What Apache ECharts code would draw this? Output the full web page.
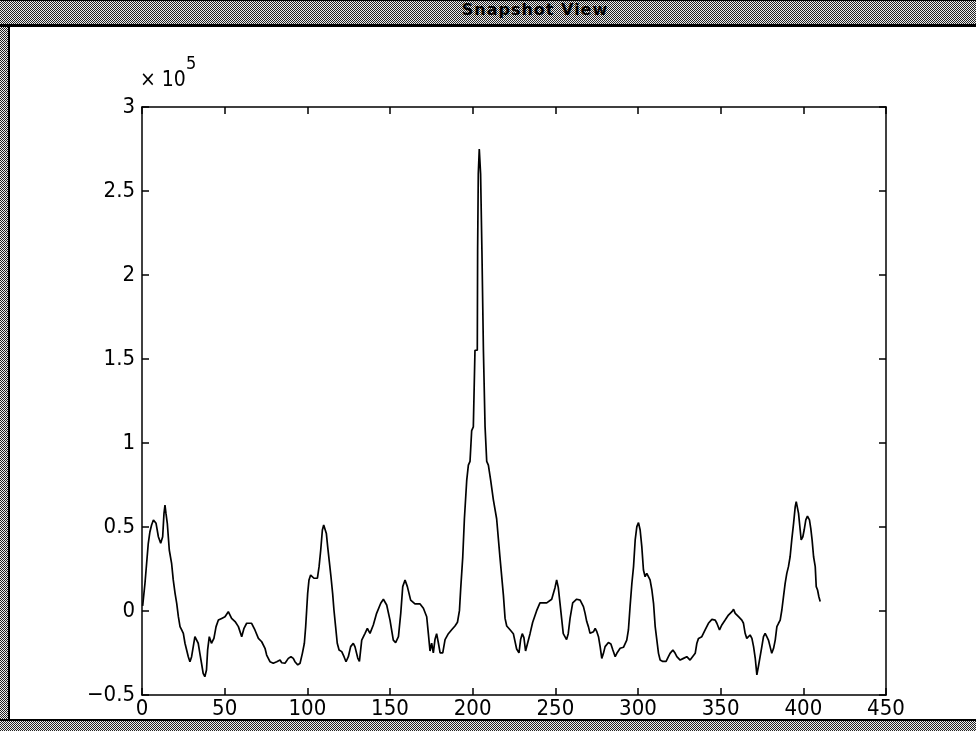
<!DOCTYPE html>
<html><head><meta charset="utf-8">
<script src="https://cdn.jsdelivr.net/npm/echarts@6/dist/echarts.min.js"></script>
<style>
html,body{margin:0;padding:0;width:976px;height:731px;overflow:hidden;background:#fff;}
.dither{position:absolute;box-sizing:border-box;background-color:#fff;background-image:repeating-conic-gradient(#222 0% 25%, #eee 0% 50%);background-size:2px 2px;}
#titlebar{left:0;top:0;width:976px;height:27px;border-top:1px solid #000;border-bottom:3px solid #000;}
#leftb{left:0;top:27px;width:10px;height:695px;border-right:2px solid #000;}
#bottomb{left:0;top:719px;width:976px;height:12px;border-top:2px solid #000;}
#ttl{position:absolute;left:0;top:0;width:1070px;height:24px;line-height:24px;text-align:center;font:bold 16px "DejaVu Sans",sans-serif;color:#000;letter-spacing:1px;}
#chart{position:absolute;left:0;top:0;width:976px;height:731px;}
</style></head>
<body>
<div class="dither" id="titlebar"></div>
<div id="ttl">Snapshot View</div>
<div class="dither" id="leftb"></div>
<div class="dither" id="bottomb"></div>
<div id="chart"></div>
<script>
// values in units of 1e5
const xValues = [
0.4,1.8,2.8,3.8,4.8,5.8,6.9,7.3,8.5,9.9,
11.3,12.5,13.3,13.9,14.5,15.3,16.5,17.9,18.9,20,
21,22,23,24,25,26,27,28,29,30,
31,32,33,34,35,36,37,38,39,39.7,
40.7,42,43.5,44.8,46.2,48.2,50.2,52.2,54.2,56.3,
58.3,60.3,61.7,63.3,64.3,66.3,68.3,70.4,72.4,73.4,
74.4,75.4,76.4,77.4,79.4,81.5,82.5,83.5,84.5,86.5,
87.5,88.5,90.1,91.5,92.5,94.2,95.6,97,98.2,99,
99.6,100.2,101,102,103,104,105.1,106.1,107.1,108.1,
109.1,109.9,110.7,111.5,112.3,113.3,114.3,115.3,116.1,117.1,
118.1,119.2,120.8,122.2,123.4,124.8,126.2,127.8,128.8,130.5,
131.5,132.9,134.9,136.3,137.9,139.9,141.9,144.4,146,148,
150,152,153.4,155.1,156.5,157.7,159.1,160.5,162.5,165.1,
168.2,170.2,172.2,173.2,174.2,175.2,176.2,177.2,178.2,179.3,
180.3,181.9,183.3,185.3,187.3,189.3,190.8,192,192.8,194,
195,196.4,197.4,198.4,199.4,200.4,201.4,202.8,203,203.4,
204,204.8,205.6,206.5,207.5,208.5,209.5,210.9,212.5,214.5,
216.5,218.6,219.6,220.6,222.6,224.6,226.6,228,229,230,
231,232,233,234.7,236.3,238.7,240.7,244.8,247.8,249.8,
250.8,251.8,252.8,253.8,254.8,256.8,257.8,258.9,260.5,262.9,
265,267,268,269,270,271,272.1,273.1,274.1,275.1,
276.1,277.1,278.1,279.1,280.1,282.1,283.6,284.8,286.2,287.2,
289.2,291.2,292.2,293.2,294.2,295.2,296.3,297.3,298.3,299.3,
300.3,301.3,302.3,303.3,304.3,305.3,306.3,307.3,308.4,309.4,
310.4,311.4,312.4,313.4,315,317,318.4,319.4,321.1,322.5,
323.5,325.5,327.5,329.5,331.5,334.6,335.6,336.6,338.6,340.6,
342.6,344.7,346.7,347.7,349.3,350.7,352.7,354.7,356.8,357.8,
358.8,360.8,362.8,363.8,364.8,365.8,366.8,367.8,368.9,369.9,
370.9,371.9,373,374.9,375.9,376.9,377.9,378.9,379.9,380.9,
382,383,384,385,386,387,388,389,390,391,
392,393,394.1,395.1,395.7,396.5,397.1,398.1,398.7,399.7,
400.5,401.5,402.5,403.7,404.5,405.3,406.2,407.2,407.8,408.6,
409.4,410.2
];
const yValues = [
0.03,0.165,0.284,0.403,0.472,0.512,0.542,0.546,0.522,0.442,
0.403,0.442,0.581,0.631,0.581,0.522,0.363,0.284,0.185,0.105,
0.046,-0.034,-0.093,-0.113,-0.133,-0.192,-0.232,-0.272,-0.302,-0.272,
-0.212,-0.153,-0.163,-0.192,-0.252,-0.311,-0.371,-0.391,-0.351,-0.232,
-0.153,-0.192,-0.163,-0.093,-0.054,-0.044,-0.034,-0.004,-0.044,-0.063,
-0.093,-0.153,-0.103,-0.073,-0.063,-0.073,-0.113,-0.163,-0.183,-0.183,
-0.222,-0.262,-0.282,-0.302,-0.311,-0.302,-0.296,-0.292,-0.308,-0.311,
-0.302,-0.282,-0.272,-0.282,-0.302,-0.321,-0.311,-0.252,-0.192,-0.093,
0.006,0.105,0.185,0.214,0.208,0.195,0.185,0.195,0.264,0.363,
0.482,0.512,0.502,0.462,0.383,0.294,0.204,0.105,0.006,-0.093,
-0.192,-0.232,-0.242,-0.272,-0.302,-0.272,-0.212,-0.192,-0.212,-0.28,
-0.30,-0.173,-0.133,-0.103,-0.133,-0.083,-0.014,0.046,0.07,0.036,
-0.054,-0.173,-0.188,-0.153,-0.014,0.145,0.185,0.145,0.065,0.042,
0.042,0.016,-0.034,-0.135,-0.238,-0.192,-0.249,-0.170,-0.135,-0.192,
-0.249,-0.249,-0.170,-0.135,-0.112,-0.089,-0.067,0.002,0.139,0.321,
0.549,0.777,0.868,0.891,1.074,1.096,1.552,1.552,2.145,2.602,
2.75,2.602,2.145,1.552,1.096,0.891,0.868,0.777,0.663,0.549,
0.321,0.093,-0.044,-0.089,-0.112,-0.135,-0.226,-0.249,-0.170,-0.135,
-0.158,-0.238,-0.249,-0.135,-0.067,0.002,0.048,0.048,0.07,0.139,
0.185,0.139,0.048,-0.044,-0.135,-0.170,-0.135,-0.044,0.048,0.07,
0.065,0.026,-0.014,-0.063,-0.093,-0.133,-0.143,-0.123,-0.103,-0.123,
-0.153,-0.212,-0.282,-0.252,-0.212,-0.188,-0.196,-0.232,-0.272,-0.252,
-0.222,-0.216,-0.212,-0.173,-0.113,0.026,0.165,0.264,0.423,0.502,
0.526,0.482,0.383,0.244,0.204,0.224,0.214,0.185,0.125,0.046,
-0.093,-0.173,-0.252,-0.292,-0.30,-0.30,-0.272,-0.252,-0.232,-0.252,
-0.272,-0.292,-0.282,-0.272,-0.292,-0.252,-0.192,-0.163,-0.153,-0.113,
-0.073,-0.05,-0.054,-0.073,-0.113,-0.083,-0.054,-0.024,-0.004,0.01,
-0.014,-0.034,-0.054,-0.073,-0.133,-0.163,-0.173,-0.143,-0.163,-0.212,
-0.28,-0.38,-0.32,-0.212,-0.153,-0.133,-0.153,-0.173,-0.212,-0.252,
-0.222,-0.173,-0.093,-0.073,-0.054,0.006,0.085,0.165,0.224,0.264,
0.323,0.423,0.522,0.621,0.651,0.641,0.581,0.482,0.423,0.442,
0.482,0.542,0.565,0.542,0.492,0.423,0.323,0.264,0.145,0.125,
0.085,0.056
];
const xTicks = {min:0, max:450, interval:50};
const yTicks = {min:-0.5, max:3, interval:0.5};
const exponentLabel = '× 10';
const exponentPower = '5';

const data = xValues.map((x,i)=>[x, yValues[i]]);
const fontFam = '"Liberation Sans Narrow", "DejaVu Sans Condensed", "Liberation Sans", Arial, sans-serif';
const lineSt = {color:'#000', width:1.5};
function numFmt(v){ return v < 0 ? '\u2212' + String(Math.abs(v)) : String(v); }
function axisBase(extra){
  return Object.assign({
    type:'value',
    axisLine:{show:true, onZero:false, lineStyle:lineSt},
    axisTick:{show:true, inside:true, length:7, lineStyle:lineSt},
    splitLine:{show:false},
    axisLabel:{color:'#000', fontFamily:fontFam, fontSize:22, formatter:numFmt}
  }, extra);
}
const chart = echarts.init(document.getElementById('chart'), null, {renderer:'canvas'});
chart.setOption({
  animation:false,
  backgroundColor:'transparent',
  grid:{left:142, right:90, top:107, bottom:36, show:false},
  xAxis:[
    axisBase({position:'bottom', min:xTicks.min, max:xTicks.max, interval:xTicks.interval,
      axisLabel:{color:'#000', fontFamily:fontFam, fontSize:22, margin:3, formatter:numFmt}}),
    axisBase({position:'top', min:xTicks.min, max:xTicks.max, interval:xTicks.interval, axisLabel:{show:false}})
  ],
  yAxis:[
    axisBase({position:'left', min:yTicks.min, max:yTicks.max, interval:yTicks.interval,
      axisLabel:{color:'#000', fontFamily:fontFam, fontSize:22, margin:7, formatter:numFmt}}),
    axisBase({position:'right', min:yTicks.min, max:yTicks.max, interval:yTicks.interval, axisLabel:{show:false}})
  ],
  graphic:[
    {type:'text', left:140, top:70, style:{text:exponentLabel, font:'21px "Liberation Sans Narrow", "DejaVu Sans Condensed", "Liberation Sans", sans-serif', fill:'#000'}},
    {type:'text', left:186, top:55, style:{text:exponentPower, font:'18px "Liberation Sans Narrow", "DejaVu Sans Condensed", "Liberation Sans", sans-serif', fill:'#000'}}
  ],
  series:[{
    type:'line', xAxisIndex:0, yAxisIndex:0, data:data,
    showSymbol:false, symbol:'none', smooth:false,
    lineStyle:{color:'#000', width:1.7}
  }]
});
</script>
</body></html>
